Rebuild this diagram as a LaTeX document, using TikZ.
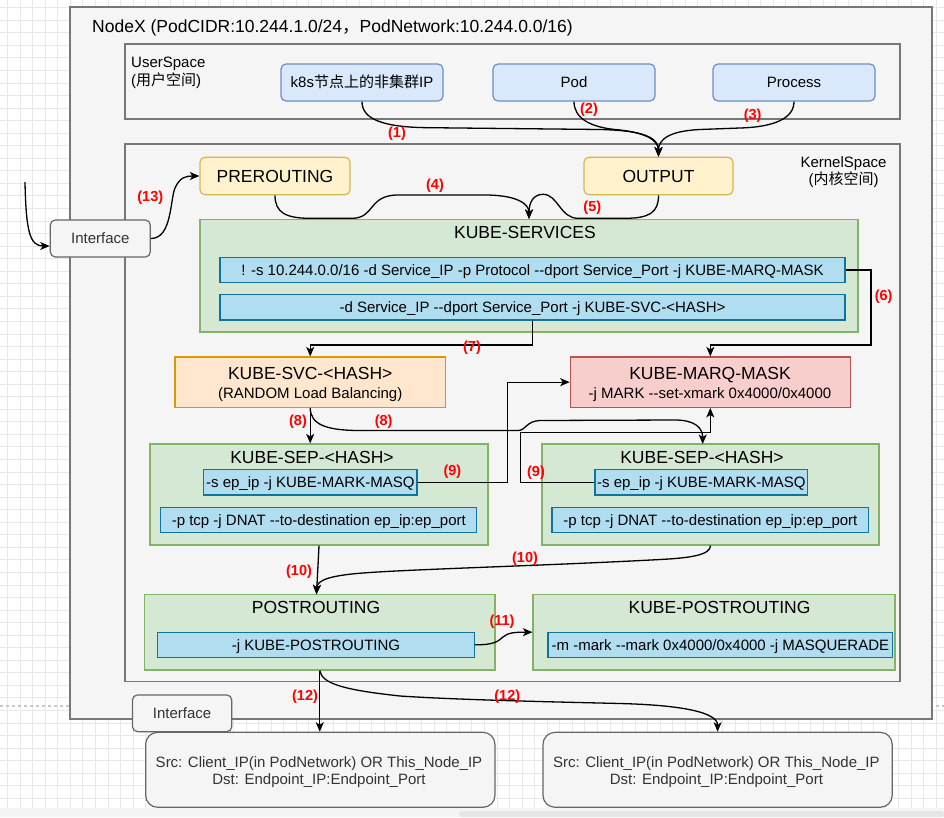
\documentclass[tikz,border=0pt]{standalone}
\usepackage{fontspec}
\setmainfont{Liberation Sans}[Ligatures=TeXOff]
\newfontfamily\cjk{Noto Sans CJK SC}
\usetikzlibrary{arrows.meta,calc}
\definecolor{gridc}{HTML}{E8E8E8}
\definecolor{framec}{HTML}{777777}
\definecolor{grayf}{HTML}{F5F5F5}
\definecolor{graystroke}{HTML}{666666}
\definecolor{graytext}{HTML}{333333}
\definecolor{ublue}{HTML}{6C8EBF}
\definecolor{ufill}{HTML}{DAE8FC}
\definecolor{yst}{HTML}{D6B656}
\definecolor{yfill}{HTML}{FFF2CC}
\definecolor{gst}{HTML}{82B366}
\definecolor{gfill}{HTML}{D5E8D4}
\definecolor{rst}{HTML}{10739E}
\definecolor{rfill}{HTML}{B1DDF0}
\definecolor{ost}{HTML}{D79B00}
\definecolor{ofill}{HTML}{FFE6CC}
\definecolor{pst}{HTML}{B85450}
\definecolor{pfill}{HTML}{F8CECC}
\definecolor{labred}{HTML}{FF0000}
\definecolor{stripc}{HTML}{F4F4F6}
\definecolor{barc}{HTML}{E6E6E8}
\definecolor{dashc}{HTML}{C8C8C8}
\tikzset{
  txt/.style={inner sep=0pt, font=\fontsize{15}{18}\selectfont, text height=10.7pt, text depth=0pt},
  ttl/.style={inner sep=0pt, font=\fontsize{17.5}{21}\selectfont, text height=12.5pt, text depth=0pt},
  lbl/.style={inner sep=0pt, text=labred, font=\bfseries\fontsize{14.5}{17}\selectfont, text height=10.4pt, text depth=0pt},
  frame/.style={draw=framec, fill=grayf, line width=1.3pt, inner sep=0pt},
  ubox/.style={txt, draw=ublue, fill=ufill, rounded corners=5pt, line width=1.2pt},
  ybox/.style={ttl, draw=yst, fill=yfill, rounded corners=5pt, line width=1.2pt},
  gbox/.style={inner sep=0pt, draw=gst, fill=gfill, line width=1.2pt},
  rbox/.style={txt, draw=rst, fill=rfill, line width=1.2pt},
  obox/.style={inner sep=0pt, draw=ost, fill=ofill, line width=1.2pt},
  pbox/.style={inner sep=0pt, draw=pst, fill=pfill, line width=1.2pt},
  ibox/.style={txt, text=graytext, draw=graystroke, fill=grayf, rounded corners=5pt, line width=1.2pt},
  dbox/.style={inner sep=0pt, draw=graystroke, fill=grayf, rounded corners=12pt, line width=1.2pt},
  gridln/.style={draw=gridc, line width=0.8pt},
  conn/.style={draw=black, line width=1.3pt},
  arr/.style={-{Stealth[length=9.5pt,width=8pt,inset=2.5pt]}}
}
\begin{document}
\begin{tikzpicture}[x=1pt,y=-1pt]
\useasboundingbox (0,0) rectangle (944,817);
\fill[white] (0,0) rectangle (944,817);
% canvas grid
\foreach \i in {0,...,74} {\draw[gridln] ({7.5+12.55*\i},0) -- ({7.5+12.55*\i},817);}
\foreach \j in {0,...,64} {\draw[gridln] (0,{7.6+12.55*\j}) -- (944,{7.6+12.55*\j});}
\draw[dashc, line width=1.2pt, dash pattern=on 3pt off 3pt] (0,706) -- (944,706);
\fill[stripc] (0,808) rectangle (944,817);
\fill[barc, rounded corners=3pt] (459,811) rectangle (944,817);

% frames
\node[frame, minimum width=862pt, minimum height=712pt] (nodex) at (501,363) {};
\node[ttl, anchor=west] (nodexT) at (92,26) {NodeX (PodCIDR:10.244.1.0/24{\cjk ，}PodNetwork:10.244.0.0/16)};
\node[frame, minimum width=775pt, minimum height=75pt] (user) at (512.5,81.5) {};
\node[txt, anchor=west] (userT1) at (131,62) {UserSpace};
\node[txt, anchor=west] (userT2) at (131,80) {({\cjk 用户空间})};
\node[frame, minimum width=775pt, minimum height=537.7pt] (kernel) at (512.5,412.85) {};
\node[txt] (kernT1) at (843.5,162) {KernelSpace};
\node[txt] (kernT2) at (843.5,179) {({\cjk 内核空间})};

% user space boxes
\node[ubox, minimum width=162pt, minimum height=37pt] (k8s) at (362,82.5) {k8s{\cjk 节点上的非集群}IP};
\node[ubox, minimum width=162pt, minimum height=37pt] (pod) at (574,82.5) {Pod};
\node[ubox, minimum width=162pt, minimum height=37pt] (process) at (794,82.5) {Process};

% kernel chains
\node[ybox, minimum width=150pt, minimum height=37.5pt] (prer) at (275,176) {PREROUTING};
\node[ybox, minimum width=149pt, minimum height=37.5pt] (output) at (658.5,176) {OUTPUT};
\node[ibox, minimum width=100pt, minimum height=37pt] (ifl) at (100.3,238.5) {Interface};

\node[gbox, minimum width=658pt, minimum height=112.5pt] (ksvc) at (529,275.75) {};
\node[ttl] (ksvcT) at (525,232) {KUBE-SERVICES};
\node[rbox, minimum width=625pt, minimum height=25pt] (r1) at (532.5,270) {! -s 10.244.0.0/16 -d Service\_IP -p Protocol --dport Service\_Port -j KUBE-MARQ-MASK};
\node[rbox, minimum width=625pt, minimum height=25.5pt] (r2) at (532.5,307.2) {-d Service\_IP --dport Service\_Port -j KUBE-SVC-<HASH>};

\node[obox, minimum width=270.4pt, minimum height=50.3pt] (svc) at (310.2,382.15) {};
\node[ttl] (svcT) at (310.2,373.3) {KUBE-SVC-<HASH>};
\node[txt] (svcS) at (310.2,392.7) {(RANDOM Load Balancing)};
\node[pbox, minimum width=280pt, minimum height=50.3pt] (marq) at (710.3,382.15) {};
\node[ttl] (marqT) at (710,373.3) {KUBE-MARQ-MASK};
\node[txt] (marqS) at (710,392.7) {-j MARK --set-xmark 0x4000/0x4000};

\node[gbox, minimum width=338pt, minimum height=101pt] (sep1) at (319,494.5) {};
\node[ttl] (sep1T) at (312,457) {KUBE-SEP-<HASH>};
\node[rbox, minimum width=213.4pt, minimum height=25.7pt] (s1r1) at (310.3,482.2) {-s ep\_ip -j KUBE-MARK-MASQ};
\node[rbox, minimum width=316pt, minimum height=25pt] (s1r2) at (318.8,519.8) {-p tcp -j DNAT --to-destination ep\_ip:ep\_port};
\node[gbox, minimum width=337pt, minimum height=101pt] (sep2) at (710.5,494.5) {};
\node[ttl] (sep2T) at (702,457) {KUBE-SEP-<HASH>};
\node[rbox, minimum width=212.6pt, minimum height=25.7pt] (s2r1) at (701.3,482.2) {-s ep\_ip -j KUBE-MARK-MASQ};
\node[rbox, minimum width=316.8pt, minimum height=25pt] (s2r2) at (710.4,519.8) {-p tcp -j DNAT --to-destination ep\_ip:ep\_port};

\node[gbox, minimum width=350.5pt, minimum height=75.7pt] (post) at (319.75,632.15) {};
\node[ttl] (postT) at (316,607) {POSTROUTING};
\node[rbox, minimum width=316.7pt, minimum height=25pt] (pr) at (316,644.8) {-j KUBE-POSTROUTING};
\node[gbox, minimum width=362pt, minimum height=75.7pt] (kpost) at (714,632.15) {};
\node[ttl] (kpostT) at (719.5,607) {KUBE-POSTROUTING};
\node[rbox, minimum width=344.8pt, minimum height=25pt] (kpr) at (720.4,644.8) {-m -mark --mark 0x4000/0x4000 -j MASQUERADE};

% connectors
\draw[conn,arr] (k8s.south) .. controls (362,118) and (380,127.5) .. (430,127.7) -- (600,129.5) .. controls (645,130.5) and (658.5,138) .. (output.north);
\draw[conn,arr] (pod.south) .. controls (574,118) and (590,127) .. (615,129.5) .. controls (645,132) and (658.5,140) .. (output.north);
\draw[conn,arr] (process.south) .. controls (794,118) and (775,127) .. (740,128) -- (700,129.5) .. controls (668,131) and (658.5,140) .. (output.north);
\node[lbl] (l1) at (397,132.7) {(1)};
\node[lbl] (l2) at (589,108) {(2)};
\node[lbl] (l3) at (752.6,114) {(3)};

\draw[conn,arr] (prer.south) .. controls (275,212) and (285,218.3) .. (310,218.3) -- (352,218.3) .. controls (375,218.3) and (368,195) .. (398,195) -- (485,195) .. controls (515,195) and (529,203) .. (ksvc.north);
\draw[conn,arr] (output.south) .. controls (658.5,212) and (650,218.3) .. (625,218.3) -- (578,218.3) .. controls (560,218.3) and (558,194.3) .. (543,194.3) .. controls (533,194.3) and (529,203) .. (ksvc.north);
\node[lbl] (l4) at (435,184) {(4)};
\node[lbl] (l5) at (592.3,206.7) {(5)};

\coordinate (c6) at (871,345);
\draw[conn,arr] (r1.east) -| (c6) -| (marq.north);
\node[lbl] (l6) at (883.7,295) {(6)};

\coordinate (c7) at (420,345);
\draw[conn,arr] (r2.south) |- (c7) -| (svc.north);
\node[lbl] (l7) at (472,346) {(7)};

\draw[conn,arr] (svc.south) -- (svc.south |- sep1.north);
\coordinate (c8) at (702.7,444);
\draw[conn,arr] (svc.south) .. controls (310.5,424) and (325,430.5) .. (360,430.5) -- (518,430.5) .. controls (526,430.5) and (526,421) .. (540,420.5) -- (675,420) .. controls (695,420) and (702.7,428) .. (c8);
\node[lbl] (l8a) at (298,420.7) {(8)};
\node[lbl] (l8b) at (383.7,420.7) {(8)};

\coordinate (c9a) at (507.5,382.15);
\draw[conn,arr] (s1r1.east) -| (c9a) -- (marq.west);
\coordinate (c9b) at (520.7,432.3);
\draw[conn,arr] (s2r1.west) -| (c9b) -| (marq.south);
\node[lbl] (l9a) at (452.4,470) {(9)};
\node[lbl] (l9b) at (536,471) {(9)};

\coordinate (pin) at (316.5,594.3);
\draw[conn,arr] (sep1.south) -- (pin);
\draw[conn,arr] (sep2.south) .. controls (710.5,555) and (690,558) .. (660,559.5) .. controls (560,565) and (420,569) .. (370,572.5) .. controls (330,575) and (317,580) .. (pin);
\node[lbl] (l10a) at (299,570) {(10)};
\node[lbl] (l10b) at (525,557.3) {(10)};

\draw[conn,arr] (pr.east) .. controls (492,645) and (498,642) .. (503,637) .. controls (508,632.5) and (515,632.2) .. (kpost.west);
\node[lbl] (l11) at (502,620) {(11)};

% bottom interface and destinations
\node[ibox, minimum width=99.3pt, minimum height=36.7pt] (ifb) at (182.1,713.3) {Interface};
\node[dbox, minimum width=349.3pt, minimum height=75pt] (dst1) at (320.3,769.8) {};
\node[txt, text=graytext] (d1a) at (319,761.7) {Src: Client\_IP(in PodNetwork) OR This\_Node\_IP};
\node[txt, text=graytext] (d1b) at (319,779.3) {Dst: Endpoint\_IP:Endpoint\_Port};
\node[dbox, minimum width=349.2pt, minimum height=75pt] (dst2) at (717.6,769.8) {};
\node[txt, text=graytext] (d2a) at (716.4,761.7) {Src: Client\_IP(in PodNetwork) OR This\_Node\_IP};
\node[txt, text=graytext] (d2b) at (716.4,779.3) {Dst: Endpoint\_IP:Endpoint\_Port};

\draw[conn,arr] (post.south) -- (post.south |- dst1.north);
\draw[conn,arr] (post.south) .. controls (322,684) and (345,690) .. (400,696) .. controls (460,700) and (560,702) .. (620,703.5) .. controls (680,705) and (717.6,712) .. (dst2.north);
\node[lbl] (l12a) at (305,695) {(12)};
\node[lbl] (l12b) at (507.3,695) {(12)};

\draw[conn,arr] (ifl.east) .. controls (172,238.5) and (170,200) .. (175,188) .. controls (180,177) and (186,176) .. (prer.west);
\node[lbl] (l13) at (150.3,195.8) {(13)};
\coordinate (inS) at (25,182);
\draw[conn,arr] (inS) .. controls (26,232) and (30,246) .. ($(ifl.west)+(0,7.5)$);
\end{tikzpicture}
\end{document}
